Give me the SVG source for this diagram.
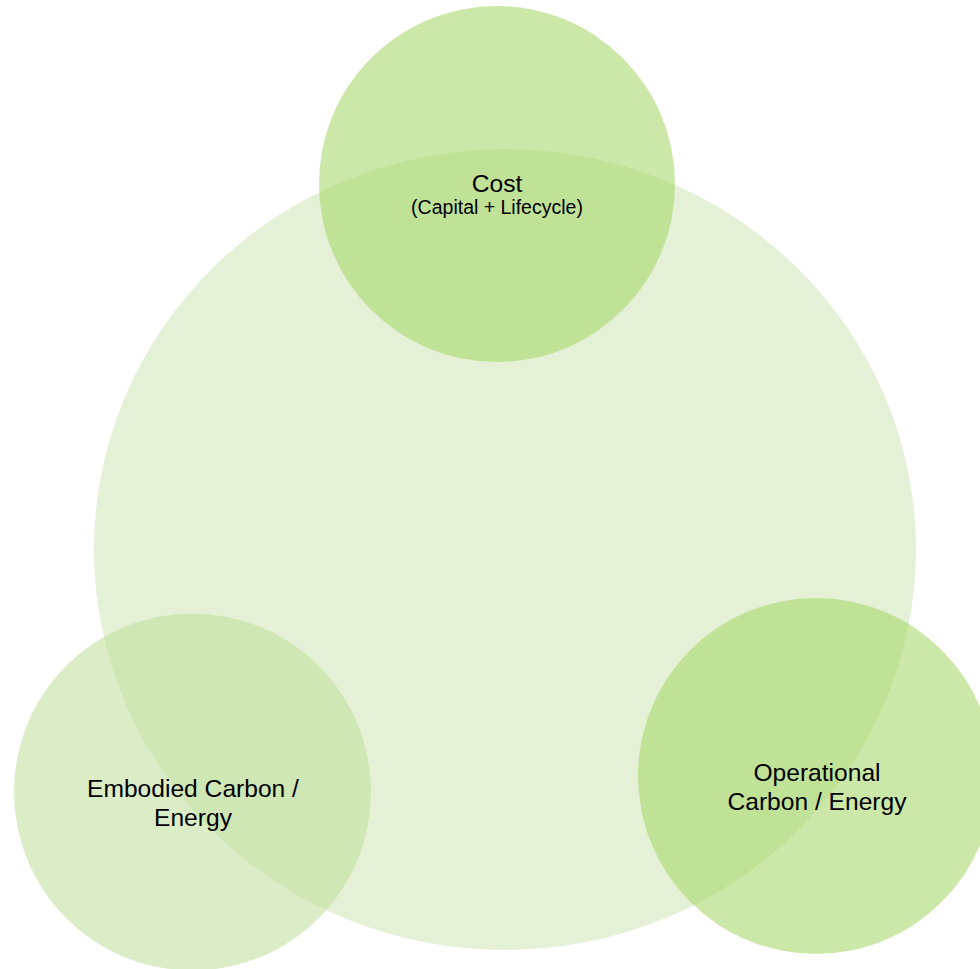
<svg xmlns="http://www.w3.org/2000/svg" width="980" height="969" viewBox="0 0 980 969">
<style>
.lbl{font-family:"Liberation Sans",Arial,sans-serif;fill:#000;text-anchor:middle}
.big{font-size:24.6px}
.small{font-size:19.5px}
</style>
<rect width="980" height="969" fill="#ffffff"/>
<g id="center">
<ellipse cx="505" cy="549.5" rx="411" ry="400.5" fill="#e5f1d7"/>
</g>
<g id="cost">
<circle cx="497" cy="184" r="178" fill="#a0d460" fill-opacity="0.54"/>
<text class="lbl big" x="497" y="192">Cost</text>
<text class="lbl small" x="497" y="214">(Capital + Lifecycle)</text>
</g>
<g id="embodied">
<circle cx="192.5" cy="792" r="178.5" fill="#bcdd95" fill-opacity="0.54"/>
<text class="lbl big" x="193" y="797">Embodied Carbon /</text>
<text class="lbl big" x="193" y="826">Energy</text>
</g>
<g id="operational">
<circle cx="816" cy="776" r="178" fill="#a0d460" fill-opacity="0.54"/>
<text class="lbl big" x="817" y="781">Operational</text>
<text class="lbl big" x="817" y="810">Carbon / Energy</text>
</g>
<g id="connectors"/>
</svg>
